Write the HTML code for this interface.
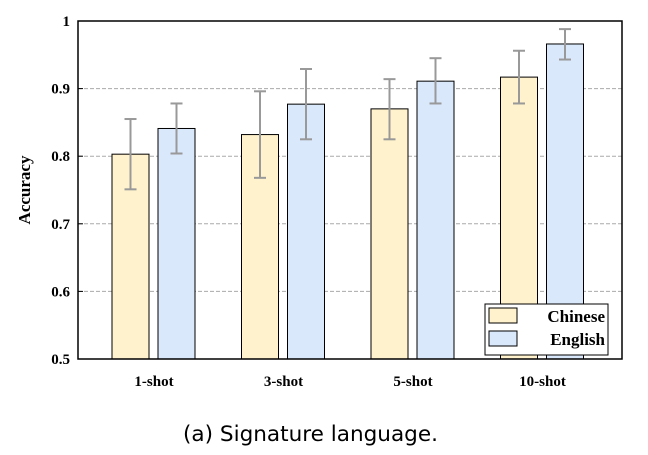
<!DOCTYPE html>
<html><head><meta charset="utf-8"><style>body{margin:0;background:#fff}svg{display:block}</style></head>
<body>
<svg id="chart" width="648" height="455" xmlns="http://www.w3.org/2000/svg"></svg>
<script>
const categories=["1-shot","3-shot","5-shot","10-shot"];
const chineseValues=[0.803,0.832,0.870,0.917];
const englishValues=[0.841,0.877,0.911,0.966];
const chineseLow=[0.751,0.768,0.825,0.878];
const chineseHigh=[0.855,0.896,0.914,0.956];
const englishLow=[0.804,0.825,0.878,0.943];
const englishHigh=[0.878,0.929,0.945,0.988];
const yTicks=[0.5,0.6,0.7,0.8,0.9,1];
const yTickLabels=["0.5","0.6","0.7","0.8","0.9","1"];
const NS="http://www.w3.org/2000/svg";
const svg=document.getElementById('chart');
const L=78,R=622,T=21,B=359;
const y=v=>B-(v-0.5)/0.5*(B-T);
const cx=i=>154+i*129.5;
function mk(tag,attrs,parent){const e=document.createElementNS(NS,tag);for(const k in attrs)e.setAttribute(k,attrs[k]);(parent||svg).appendChild(e);return e;}
const F='"Liberation Serif",serif';
yTicks.forEach((t,i)=>{
 if(t>0.5&&t<1){const g=mk('line',{x1:L,x2:R,y1:y(t),y2:y(t),stroke:'#aaa','stroke-dasharray':'4,2','stroke-width':1});
 
 }
 const tk=mk('line',{x1:L,x2:L+5,y1:y(t),y2:y(t),stroke:'#000'});
 
 
 const tl=mk('text',{x:L-8,y:y(t)+5,'text-anchor':'end','font-family':F,'font-weight':'bold','font-size':15});
 tl.textContent=yTickLabels[i];
 
 
});
function bar(x,v,lo,hi,fill,name){
 const r=mk('rect',{x:x,y:y(v),width:37,height:B-y(v),fill:fill,stroke:'#000','stroke-width':1});
 
 
 const m=x+18.5;
 const eb=mk('g',{stroke:'#999','stroke-width':2});
 
 
 mk('line',{x1:m,x2:m,y1:y(lo),y2:y(hi)},eb);
 mk('line',{x1:m-6,x2:m+6,y1:y(lo),y2:y(lo)},eb);
 mk('line',{x1:m-6,x2:m+6,y1:y(hi),y2:y(hi)},eb);
}
categories.forEach((c,i)=>{
 bar(cx(i)-42,chineseValues[i],chineseLow[i],chineseHigh[i],'#fff2cc','bar-chinese-'+c);
 bar(cx(i)+4,englishValues[i],englishLow[i],englishHigh[i],'#dae8fc','bar-english-'+c);
 const t=mk('text',{x:cx(i),y:386,'text-anchor':'middle','font-family':F,'font-weight':'bold','font-size':15});
 t.textContent=c;
 
 
});
const fr=mk('rect',{x:L,y:T,width:R-L,height:B-T,fill:'none',stroke:'#000','stroke-width':1.5});


const yt=mk('text',{x:30,y:190,'text-anchor':'middle','font-family':F,'font-weight':'bold','font-size':17,transform:'rotate(-90 30 190)'});
yt.textContent='Accuracy';


const lg=mk('g',{});


mk('rect',{x:485,y:304,width:123,height:51,fill:'#fff',stroke:'#000','stroke-width':1},lg);
[['Chinese','#fff2cc',308],['English','#dae8fc',331]].forEach(([n,f,yy])=>{
 const e=mk('g',{},lg);
 
 
 mk('rect',{x:489,y:yy,width:28,height:15,fill:f,stroke:'#000'},e);
 const t=mk('text',{x:605,y:yy+14,'text-anchor':'end','font-family':F,'font-weight':'bold','font-size':17},e);
 t.textContent=n;
});
const cap=mk('text',{x:183,y:441,'font-family':'"DejaVu Sans","Liberation Sans",sans-serif','font-size':21,textLength:255,lengthAdjust:'spacingAndGlyphs'});
cap.textContent='(a) Signature language.';


</script>
</body></html>
